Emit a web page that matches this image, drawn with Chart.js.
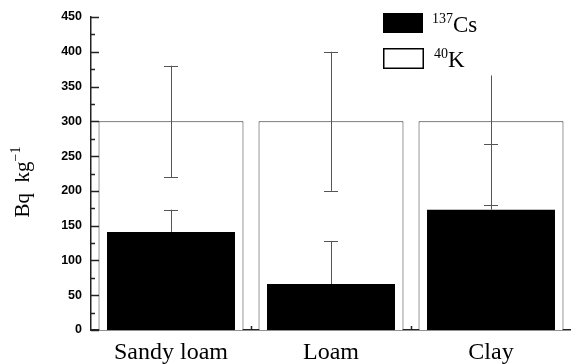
<!DOCTYPE html>
<html>
<head>
<meta charset="utf-8">
<script src="https://cdn.jsdelivr.net/npm/chart.js@4"></script>
<style>
  body { margin: 0; background: #fff; overflow: hidden; }
  canvas { display: block; }
</style>
</head>
<body>
<canvas id="soilChart" width="571" height="364"></canvas>
<script>
// ====== Data ======
const soilTypes = ["Sandy loam", "Loam", "Clay"];
const csValues = [141, 66, 173];
const kValues = [300, 300, 300];
const csErrHigh = [173, 128, 268];
const kErrHigh = [380, 400, 366];
const kErrLow = [220, 200, 179];
const kCapHigh = [true, true, false];
const yTicks = [0, 50, 100, 150, 200, 250, 300, 350, 400, 450];

const serif = "'Liberation Serif', 'Times New Roman', serif";
const sans = "'Liberation Sans', Arial, sans-serif";

// ====== Plugins ======
const errorBars = {
  id: "errorBars",
  afterDatasetsDraw(chart) {
    const ctx = chart.ctx;
    const y = chart.scales.y;
    const csMeta = chart.getDatasetMeta(0);
    const kMeta = chart.getDatasetMeta(1);
    const cap = 7;
    ctx.save();
    ctx.strokeStyle = "#555";
    ctx.lineWidth = 1;
    const line = (x, v1, v2) => {
      ctx.beginPath();
      ctx.moveTo(Math.round(x) + 0.5, y.getPixelForValue(v1));
      ctx.lineTo(Math.round(x) + 0.5, y.getPixelForValue(v2));
      ctx.stroke();
    };
    const capAt = (x, v) => {
      const py = Math.round(y.getPixelForValue(v)) + 0.5;
      ctx.beginPath();
      ctx.moveTo(x - cap, py);
      ctx.lineTo(x + cap, py);
      ctx.stroke();
    };
    soilTypes.forEach((s, i) => {
      const kx = kMeta.data[i].x;
      line(kx, kErrLow[i], kErrHigh[i]);
      capAt(kx, kErrLow[i]);
      if (kCapHigh[i]) capAt(kx, kErrHigh[i]);
      const cx = csMeta.data[i].x;
      line(cx, csValues[i], csErrHigh[i]);
      capAt(cx, csErrHigh[i]);
    });
    ctx.restore();
  },
};

const axisDecor = {
  id: "axisDecor",
  afterDraw(chart) {
    const ctx = chart.ctx;
    const y = chart.scales.y;
    const x = chart.scales.x;
    const area = chart.chartArea;
    ctx.save();
    ctx.strokeStyle = "#222";
    ctx.lineWidth = 1.5;
    // inward major + minor ticks on y
    yTicks.forEach((v, i) => {
      const py = Math.round(y.getPixelForValue(v)) + 0.5;
      ctx.beginPath();
      ctx.moveTo(area.left, py);
      ctx.lineTo(area.left + 8, py);
      ctx.stroke();
      if (i < yTicks.length - 1) {
        const mv = (v + yTicks[i + 1]) / 2;
        const my = Math.round(y.getPixelForValue(mv)) + 0.5;
        ctx.beginPath();
        ctx.moveTo(area.left, my);
        ctx.lineTo(area.left + 4, my);
        ctx.stroke();
      }
    });
    // small ticks between categories on x
    for (let i = 1; i < soilTypes.length; i++) {
      const px = Math.round((x.getPixelForValue(i - 1) + x.getPixelForValue(i)) / 2) + 0.5;
      ctx.beginPath();
      ctx.moveTo(px, area.bottom);
      ctx.lineTo(px, area.bottom - 4);
      ctx.stroke();
    }

    // y axis title
    ctx.fillStyle = "#000";
    ctx.translate(29, 182);
    ctx.rotate(-Math.PI / 2);
    ctx.font = "21px " + serif;
    ctx.textBaseline = "alphabetic";
    const main = "Bq  kg";
    const w1 = ctx.measureText(main).width;
    ctx.font = "14px " + serif;
    const sup = "\u22121";
    const w2 = ctx.measureText(sup).width;
    const start = -(w1 + w2) / 2;
    ctx.font = "21px " + serif;
    ctx.fillText(main, start, 0);
    ctx.font = "14px " + serif;
    ctx.fillText(sup, start + w1, -9);
    ctx.restore();

    // legend
    ctx.save();
    ctx.fillStyle = "#000";
    ctx.fillRect(383, 13, 40, 20);
    ctx.strokeStyle = "#000";
    ctx.lineWidth = 1.5;
    ctx.fillStyle = "#fff";
    ctx.fillRect(384, 49, 39, 19);
    ctx.strokeRect(383.75, 48.75, 39.5, 19.5);
    ctx.fillStyle = "#000";
    ctx.textBaseline = "alphabetic";
    const legendItem = (supTxt, txt, lx, ly) => {
      ctx.font = "14px " + serif;
      ctx.fillText(supTxt, lx, ly - 9);
      const sw = ctx.measureText(supTxt).width;
      ctx.font = "23px " + serif;
      ctx.fillText(txt, lx + sw, ly);
    };
    legendItem("137", "Cs", 432, 32);
    legendItem("40", "K", 434, 67);
    ctx.restore();
  },
};

// ====== Chart ======
const soilCtx = document.getElementById("soilChart");
const soilChart = new Chart(soilCtx, {
  type: "bar",
  data: {
    labels: soilTypes,
    datasets: [
      {
        label: "137Cs",
        data: csValues,
        backgroundColor: "#000",
        borderColor: "#000",
        borderWidth: 0,
        grouped: false,
        barPercentage: 0.8,
        categoryPercentage: 1,
      },
      {
        label: "40K",
        data: kValues,
        backgroundColor: "#fff",
        borderColor: "#333",
        borderWidth: 1,
        borderSkipped: "bottom",
        grouped: false,
        barPercentage: 0.906,
        categoryPercentage: 1,
      },
    ],
  },
  options: {
    responsive: false,
    animation: false,
    layout: { padding: { top: 17, right: 0, left: 0, bottom: 0 } },
    plugins: {
      legend: { display: false },
      tooltip: { enabled: false },
    },
    scales: {
      x: {
        grid: { display: false, drawTicks: false },
        border: { display: true, color: "#222", width: 1.5 },
        ticks: {
          color: "#000",
          padding: 8,
          font: { family: serif, size: 24 },
        },
        afterFit(scale) { scale.height = 34; },
      },
      y: {
        min: 0,
        max: 450,
        grid: { display: false, drawTicks: false },
        border: { display: true, color: "#222", width: 1.5 },
        ticks: {
          stepSize: 50,
          color: "#000",
          padding: 9,
          font: { family: sans, size: 12.5, weight: "bold" },
        },
        afterFit(scale) { scale.width = 91; },
      },
    },
  },
  plugins: [errorBars, axisDecor],
});
</script>
</body>
</html>
